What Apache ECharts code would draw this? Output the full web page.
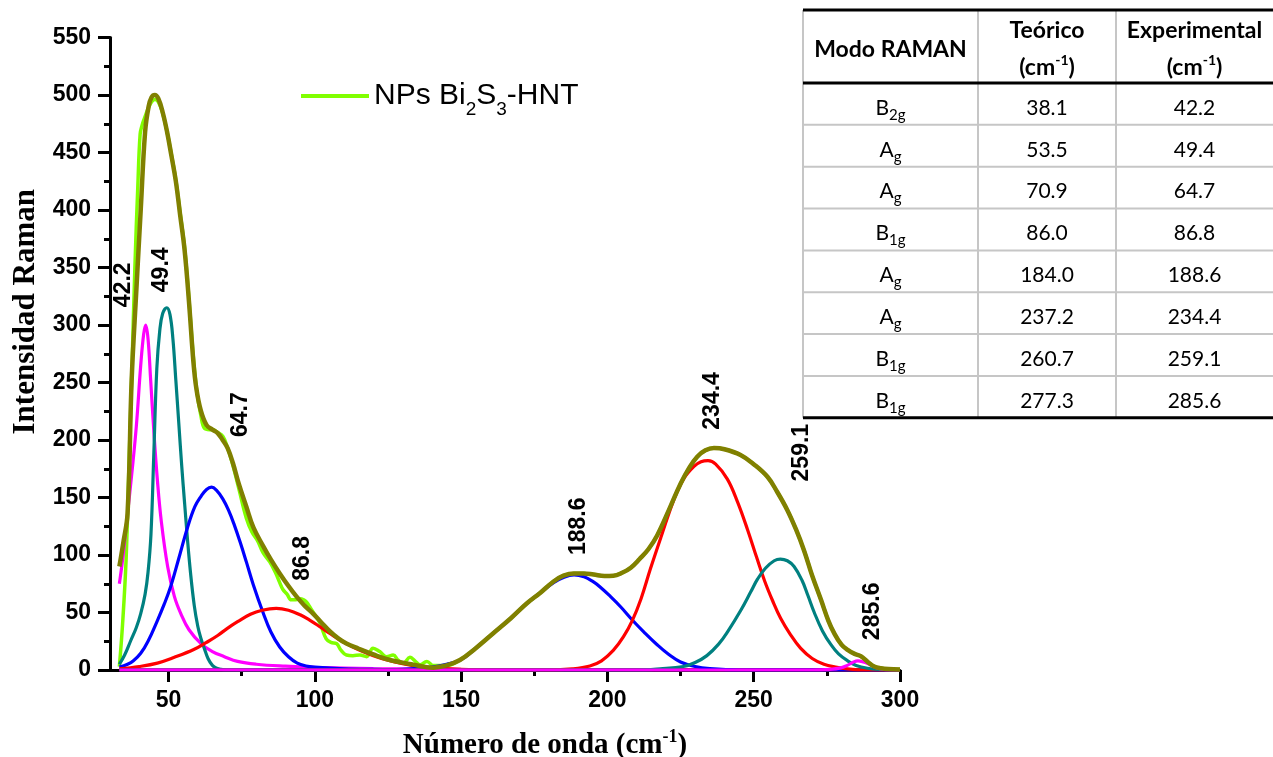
<!DOCTYPE html>
<html>
<head>
<meta charset="utf-8">
<script src="https://cdn.jsdelivr.net/npm/echarts@6/dist/echarts.min.js"></script>
<style>
  html, body { margin: 0; padding: 0; background: #fff; }
  #chart { width: 1273px; height: 757px; }
</style>
</head>
<body>
<div id="chart"></div>
<script>
// ---- Raman spectrum of Bi2S3-HNT nanoparticles: measured curve, fitted envelope and peak components ----

// experimental spectrum [wavenumber cm-1, intensity]
const experimental = [[33.2,3],[34.3,40],[35.5,96],[36.5,180],[37.5,262],[38.5,350],[39.5,420],[40.3,466],[41,474],[41.8,480],[43,488],[44.2,494],[45.3,496],[46.5,494],[48,484],[49.5,468],[51,448],[52.5,426],[54,397],[55.5,367],[57,322],[58.5,272],[59.8,240],[61,222],[62.3,210],[64,209],[65.3,209],[66.5,207],[68.6,203],[70.2,193],[72,178],[74,158],[76.6,132],[78.5,120],[80.5,112],[82.3,102],[84.6,94],[86.5,85],[88,76],[89.1,70],[90.5,66],[92,61],[93.5,61],[94.9,62],[96.2,61],[97.2,59],[98.5,54],[100,48],[101.7,41],[103.9,27],[105.5,24],[107.4,23],[109,17],[110.8,13],[113,12.5],[115.4,13],[117.7,11.6],[119.9,19],[122.2,16],[124.5,11.6],[126.8,13],[128.5,8.5],[130.3,6],[132.5,11],[134.2,8],[136,4.5],[138.3,7.5],[140.5,4],[145,4],[149.6,8.7],[155,19],[161,32],[167,45],[172.5,58],[177,67],[181.6,77],[185,82],[188.5,84],[192,84],[195.3,83],[199,81.8],[202,82],[205,84.5],[208,89],[211,96.5],[214,105],[217,117],[221,139],[225,162],[228,176],[230.7,185.5],[233.5,191],[236.4,193],[240,192],[245.5,187],[250,179],[254.7,168],[258,155],[261.5,139],[264.5,122],[267.2,104],[270,82],[273,61],[275.5,43],[277.5,32],[280,22],[282.1,17.5],[284.5,14],[286.6,12],[289,7],[291.2,3],[293.5,1.5],[296,0.8],[300,0.5]];

// cumulative fit
const fitEnvelope = [[33.2,90],[34.5,110],[36,136],[37.4,252],[39,330],[40.5,400],[42,468],[43.2,490],[44.2,498],[45.3,500],[46.5,497],[48,485],[49.5,468],[51,447],[52.5,425],[54,395],[55.5,365],[57,320],[58.5,268],[59.5,245],[61,226],[63,213],[65,209],[66.8,206],[68.5,200],[70.2,193],[72,180],[74,162],[76.6,142],[79,124],[82.3,108],[85,96],[88,84],[91,73],[93.7,64],[96.5,56],[99.4,49],[102,42],[105,34],[108,27.5],[110.8,23],[115,18.5],[120,13.5],[126,8.5],[133,5],[140.5,2],[145,4],[149.6,8.7],[155,19],[161,32],[167,45],[172.5,58],[177,67],[181.6,77],[185,82],[188.5,84],[192,84],[195.3,83],[199,81.8],[202,82],[205,84.5],[208,89],[211,96.5],[214,105],[217,117],[221,139],[225,162],[228,176],[230.7,185.5],[233.5,191],[236.4,193],[240,192],[245.5,187],[250,179],[254.7,168],[258,155],[261.5,139],[264.5,122],[267.2,104],[270,82],[273,61],[275.5,43],[277.5,32],[280,22],[282.1,17.5],[284.5,14],[286.6,12],[289,7],[291.2,3],[293.5,1.5],[296,0.8],[300,0.5]];

// fitted peak components
const peak42 = [[33.2,75],[34.5,100],[36,136],[37.5,172],[39,212],[40.5,265],[41.5,292],[42.2,300],[43,288],[43.9,252],[45,207],[46.2,165],[47.5,130],[49.7,90],[52,64],[54.2,49],[57,35],[61.1,23],[65,16],[69.1,11.6],[73.6,7.5],[80,5],[90,3.3],[100,2.3],[120,1.3],[150,0.6],[200,0.2],[250,0.1],[300,0]];
const peak49 = [[33.2,5],[35,13],[37,25],[39,37],[40.5,49],[42,66],[43,85],[44,118],[45,190],[46,262],[47,295],[48,310],[49.4,315],[50.5,309],[51.5,288],[52.5,252],[53.5,215],[54.5,178],[55.5,145],[56.5,113],[57.5,85],[58.8,56],[60,38],[61,28],[62.2,19],[63.5,10],[65,4],[66.5,1.5],[68,0.5],[70,0],[100,0],[150,0],[200,0],[250,0],[300,0]];
const peak65 = [[33.2,2.5],[36,5],[38,8],[40.5,14.5],[43,25],[46.2,43],[48.5,57],[50.8,73],[53.5,97],[56.5,124],[59,142],[61.1,151],[63,157],[64.7,159],[66.5,156],[68.5,149],[70.5,139],[72.5,126],[74.5,111],[76.6,94],[79,74],[82.3,50],[85,33],[88,20],[91,11.5],[94,6],[97,3.5],[100,2.5],[110,1],[120,0.5],[140,0],[200,0],[300,0]];
const peak87 = [[33.2,1],[40,3],[46.2,6],[52,11],[58.8,18],[63,24],[66.8,30],[70,36],[73.6,42],[78,48.5],[82,52],[86.8,53.6],[91,52],[95,48],[98.5,43],[101.7,37.7],[105,32],[110,24],[115,17.5],[120,12.5],[125,8.5],[130,5.5],[135,3.2],[140,1.8],[150,0.5],[160,0],[200,0],[300,0]];
const peak189 = [[33.2,0],[120,0],[130,0.5],[140,2.5],[145,5],[150,9],[155,19],[161,32],[167,45],[172.5,58],[177,67],[181.6,76],[185,80.5],[188.6,82.6],[192,81],[195,77],[197.6,72],[201,64],[204.5,55],[208.5,43.5],[212.5,33],[217,22],[221,13.5],[225,7],[230,3],[235,1.2],[245,0],[300,0]];
const peak234 = [[33.2,0],[180,0],[188,1],[194,3.5],[198,8],[202,17],[205.5,29],[208.5,43],[211.5,62],[214.7,88],[218.5,117],[222.7,148],[226,166],[229.6,177],[232,181],[234.4,182],[237,179],[241,166],[244.5,146],[247.9,122],[251,98],[253.8,77],[256.5,60],[259.2,45],[262.5,31],[266,19],[270,10],[274,5],[278,2.5],[282,1],[288,0],[300,0]];
const peak259 = [[33.2,0],[210,0],[218,1],[226,3],[230,6.5],[234,12.5],[238,22.5],[241,33],[245.6,52],[249,68],[251.3,79],[254,88.5],[257,95],[259.1,96.5],[261.5,95],[263.8,90],[266.5,78],[268.5,65],[270.7,50],[273.5,34],[276.4,22],[279,14],[282.1,8],[285,4],[288.9,1.5],[293,0.5],[300,0]];
const peak286 = [[33.2,0],[270,0],[276,0.5],[279.8,1.8],[282,4],[283.8,6.5],[285.6,8],[287.5,7],[289.5,5],[291,3],[292.5,1.5],[295,0.3],[300,0]];

// Raman mode table
const modeSymbol = ['B', 'A', 'A', 'B', 'A', 'A', 'B', 'B'];
const modeSub = ['2g', 'g', 'g', '1g', 'g', 'g', '1g', '1g'];
const theoretical = [38.1, 53.5, 70.9, 86.0, 184.0, 237.2, 260.7, 277.3];
const measured = [42.2, 49.4, 64.7, 86.8, 188.6, 234.4, 259.1, 285.6];

// where each peak annotation sits (data coordinates of the text centre)
const annotX = [34.8, 47.6, 74.7, 96.0, 190.2, 235.9, 266.4, 290.7];
const annotY = [335, 348, 222, 97, 125, 234, 189, 51];

// axis ticks
const xMajorTicks = [50, 100, 150, 200, 250, 300];
const xMinorTicks = [75, 125, 175, 225, 275];

const SANS = '"Liberation Sans", Arial, sans-serif';
const SERIF = '"Liberation Serif", "Times New Roman", serif';
const TABLE_FONT = 'Lato, Carlito, sans-serif';

const components = [
  { data: peak42, color: '#ff00ff' },
  { data: peak49, color: '#008080' },
  { data: peak65, color: '#0000ff' },
  { data: peak87, color: '#ff0000' },
  { data: peak189, color: '#0000ff' },
  { data: peak234, color: '#ff0000' },
  { data: peak259, color: '#008080' },
  { data: peak286, color: '#ff00ff' }
];

const lineBase = { type: 'line', showSymbol: false, symbol: 'none', smooth: 0.4, silent: true };

const series = [
  Object.assign({}, lineBase, {
    name: 'NPs Bi2S3-HNT',
    data: experimental,
    lineStyle: { color: '#80ff00', width: 3.5 },
    itemStyle: { color: '#80ff00' }
  })
];
components.forEach((c, i) => {
  series.push(Object.assign({}, lineBase, {
    name: 'peak' + measured[i],
    data: c.data,
    lineStyle: { color: c.color, width: 3.2 },
    itemStyle: { color: c.color }
  }));
});
series.push(Object.assign({}, lineBase, {
  name: 'fit',
  data: fitEnvelope,
  lineStyle: { color: '#808000', width: 4.5 },
  itemStyle: { color: '#808000' }
}));
series.push({
  type: 'scatter',
  name: 'annotations',
  silent: true,
  symbolSize: 0.01,
  itemStyle: { color: 'rgba(0,0,0,0)', opacity: 1 },
  data: measured.map((v, i) => [annotX[i], annotY[i], v]),
  label: {
    show: true,
    position: 'inside',
    rotate: 90,
    formatter: p => p.data[2].toFixed(1),
    fontFamily: SANS,
    fontWeight: 'bold',
    fontSize: 23,
    color: '#000',
    opacity: 1,
    textBorderWidth: 0
  },
  z: 10
});

// ---- table of Raman modes, drawn with graphic elements ----
const colX = [803, 978, 1116, 1273];
const tableTop = 10, headBottom = 83, rowH = 41.85;
const tableBottom = headBottom + rowH * 8;
const graphics = [];
colX.slice(0, 3).forEach(x => graphics.push({
  type: 'line', shape: { x1: x, y1: tableTop, x2: x, y2: tableBottom },
  style: { stroke: '#c6c6c6', lineWidth: 2 }
}));
for (let i = 1; i < 8; i++) {
  const y = headBottom + rowH * i;
  graphics.push({ type: 'line', shape: { x1: colX[0], y1: y, x2: colX[3], y2: y },
    style: { stroke: '#c6c6c6', lineWidth: 2 } });
}
[tableTop, headBottom, tableBottom].forEach(y => graphics.push({
  type: 'line', shape: { x1: colX[0], y1: y, x2: colX[3], y2: y },
  style: { stroke: '#000', lineWidth: 3 }
}));
const colC = [(colX[0] + colX[1]) / 2, (colX[1] + colX[2]) / 2, (colX[2] + colX[3]) / 2];
const headRich = {
  h: { fontFamily: TABLE_FONT, fontWeight: 'bold', fontSize: 23, lineHeight: 30, fill: '#000' },
  hs: { fontFamily: TABLE_FONT, fontWeight: 'bold', fontSize: 14, lineHeight: 14, verticalAlign: 'top', fill: '#000' }
};
function headText(x, y, text) {
  graphics.push({ type: 'text', x: x, y: y, style: {
    text: text, rich: headRich, align: 'center', verticalAlign: 'middle',
    fontFamily: TABLE_FONT, fontWeight: 'bold', fontSize: 23, fill: '#000' } });
}
headText(colC[0], 50, '{h|Modo RAMAN}');
headText(colC[1], 31, '{h|Teórico}');
headText(colC[1], 68, '{h|(cm}{hs|-1}{h|)}');
headText(colC[2], 31, '{h|Experimental}');
headText(colC[2], 68, '{h|(cm}{hs|-1}{h|)}');
const bodyRich = {
  b: { fontFamily: TABLE_FONT, fontSize: 21, lineHeight: 29, fill: '#000' },
  bs: { fontFamily: TABLE_FONT, fontSize: 15, lineHeight: 15, verticalAlign: 'bottom', fill: '#000' }
};
for (let i = 0; i < 8; i++) {
  const y = headBottom + rowH * (i + 0.5) + 4;
  const cells = [
    '{b|' + modeSymbol[i] + '}{bs|' + modeSub[i] + '}',
    '{b|' + theoretical[i].toFixed(1) + '}',
    '{b|' + measured[i].toFixed(1) + '}'
  ];
  cells.forEach((t, c) => graphics.push({ type: 'text', x: colC[c], y: y, style: {
    text: t, rich: bodyRich, align: 'center', verticalAlign: 'middle',
    fontFamily: TABLE_FONT, fontSize: 21, fill: '#000' } }));
}

const axisBlack = { color: '#000', width: 3 };
const tickFont = { fontFamily: SANS, fontWeight: 'bold', fontSize: 23, color: '#000' };

const option = {
  animation: false,
  backgroundColor: '#fff',
  grid: { left: 110, right: 373, top: 37.5, bottom: 87, containLabel: false, outerBoundsMode: 'none' },
  legend: {
    data: ['NPs Bi2S3-HNT'],
    left: 301, top: 81, padding: 0,
    icon: 'rect', itemWidth: 68, itemHeight: 4,
    selectedMode: false,
    formatter: () => '{n|NPs Bi}{s|2}{n|S}{s|3}{n|-HNT}',
    textStyle: {
      fontFamily: SANS, fontSize: 30, color: '#000',
      rich: {
        n: { fontFamily: SANS, fontSize: 30, lineHeight: 46, color: '#000' },
        s: { fontFamily: SANS, fontSize: 19, lineHeight: 19, verticalAlign: 'bottom', color: '#000' }
      }
    }
  },
  xAxis: [{
    type: 'value', min: 30, max: 300, position: 'bottom',
    axisLine: { show: true, onZero: false, lineStyle: axisBlack },
    axisTick: { show: true, customValues: xMajorTicks, length: 12, lineStyle: axisBlack },
    axisLabel: Object.assign({ customValues: xMajorTicks, margin: 19 }, tickFont),
    splitLine: { show: false },
    name: 'Número de onda (cm{sup|-1})',
    nameLocation: 'middle', nameGap: 58,
    nameTextStyle: {
      fontFamily: SERIF, fontWeight: 'bold', fontSize: 29, lineHeight: 35, color: '#000',
      padding: [0, 0, 0, 80],
      rich: { sup: { fontFamily: SERIF, fontWeight: 'bold', fontSize: 18, lineHeight: 18, verticalAlign: 'top', color: '#000' } }
    }
  }, {
    type: 'value', min: 30, max: 300, position: 'bottom',
    axisLine: { show: false },
    axisTick: { show: true, customValues: xMinorTicks, length: 6, lineStyle: axisBlack },
    axisLabel: { show: false },
    splitLine: { show: false }
  }],
  yAxis: {
    type: 'value', min: 0, max: 550, interval: 50,
    axisLine: { show: true, lineStyle: axisBlack },
    axisTick: { show: true, length: 12, lineStyle: axisBlack },
    minorTick: { show: true, splitNumber: 2, length: 6, lineStyle: axisBlack },
    axisLabel: Object.assign({ margin: 19 }, tickFont),
    splitLine: { show: false },
    name: 'Intensidad Raman',
    nameLocation: 'middle', nameGap: 66,
    nameTextStyle: {
      fontFamily: SERIF, fontWeight: 'bold', fontSize: 31, color: '#000',
      padding: [0, 0, 0, 84]
    }
  },
  series: series,
  graphic: graphics
};

const chart = echarts.init(document.getElementById('chart'), null, { renderer: 'canvas' });
chart.setOption(option);
</script>
</body>
</html>
